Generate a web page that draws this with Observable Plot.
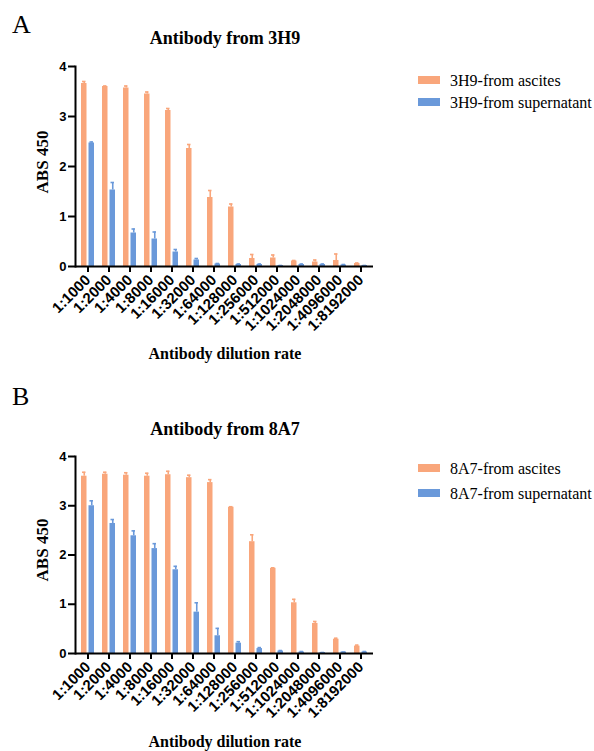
<!DOCTYPE html>
<html><head><meta charset="utf-8">
<script src="https://cdn.jsdelivr.net/npm/d3@7"></script>
<script src="https://cdn.jsdelivr.net/npm/@observablehq/plot@0.6"></script>
<style>
body{margin:0;background:#fff}
#page{position:relative;width:594px;height:751px;overflow:hidden;background:#fff}
.chart{position:absolute;left:0}
#overlay{position:absolute;left:0;top:0;pointer-events:none}
</style></head><body><div id="page"></div>
<script>
const categories = ["1:1000","1:2000","1:4000","1:8000","1:16000","1:32000","1:64000","1:128000","1:256000","1:512000","1:1024000","1:2048000","1:4096000","1:8192000"];

const ascites3H9      = [3.66, 3.60, 3.57, 3.45, 3.12, 2.36, 1.38, 1.19, 0.16, 0.17, 0.11, 0.09, 0.12, 0.06];
const ascites3H9Err   = [0.04, 0.01, 0.04, 0.04, 0.04, 0.08, 0.14, 0.06, 0.08, 0.06, 0.01, 0.04, 0.13, 0.01];
const supern3H9       = [2.47, 1.53, 0.67, 0.55, 0.29, 0.13, 0.05, 0.04, 0.04, 0.02, 0.04, 0.04, 0.03, 0.02];
const supern3H9Err    = [0.02, 0.15, 0.08, 0.14, 0.05, 0.03, 0.01, 0.01, 0.01, 0.00, 0.01, 0.01, 0.01, 0.00];

const ascites8A7      = [3.60, 3.64, 3.62, 3.60, 3.63, 3.57, 3.47, 2.97, 2.27, 1.73, 1.03, 0.61, 0.29, 0.15];
const ascites8A7Err   = [0.08, 0.04, 0.05, 0.06, 0.07, 0.05, 0.06, 0.01, 0.14, 0.01, 0.07, 0.04, 0.02, 0.02];
const supern8A7       = [3.00, 2.64, 2.39, 2.13, 1.70, 0.84, 0.36, 0.21, 0.10, 0.05, 0.03, 0.02, 0.03, 0.03];
const supern8A7Err    = [0.10, 0.08, 0.10, 0.10, 0.07, 0.19, 0.15, 0.03, 0.02, 0.01, 0.01, 0.00, 0.00, 0.01];

const yTicks = [0, 1, 2, 3, 4];
const seriesNamesA = ["3H9-from ascites", "3H9-from supernatant"];
const seriesNamesB = ["8A7-from ascites", "8A7-from supernatant"];
const panelTitles = ["Antibody from 3H9", "Antibody from 8A7"];
const panelLetters = ["A", "B"];
const yLabel = "ABS 450";
const xLabel = "Antibody dilution rate";
const colors = ["#F9A67B", "#6A99DA"];

function panel(asc, ascErr, sup, supErr, cfg) {
  const rowsA = categories.map((c, i) => ({cat: c, v: asc[i], e: ascErr[i]}));
  const rowsS = categories.map((c, i) => ({cat: c, v: sup[i], e: supErr[i]}));
  return Plot.plot({
    width: 400, height: cfg.height,
    marginTop: cfg.mt, marginBottom: cfg.mb, marginLeft: 75, marginRight: 27,
    style: {fontFamily: '"Liberation Sans", Arial, sans-serif', fontSize: "13px", fontWeight: "bold", color: "black", background: "transparent", overflow: "visible"},
    x: {type: "band", domain: categories, paddingInner: 0.37, paddingOuter: 0.12},
    y: {domain: [0, 4]},
    marks: [
      Plot.barY(rowsA, {x: "cat", y: "v", fill: colors[0], insetLeft: 0, insetRight: 7.5}),
      Plot.barY(rowsS, {x: "cat", y: "v", fill: colors[1], insetLeft: 7.5, insetRight: 0}),
      Plot.ruleX(rowsA, {x: "cat", y1: "v", y2: d => d.v + d.e, stroke: colors[0], strokeWidth: 1.6, dx: -3.75}),
      Plot.ruleX(rowsS, {x: "cat", y1: "v", y2: d => d.v + d.e, stroke: colors[1], strokeWidth: 1.6, dx: 3.75}),
      Plot.tickY(rowsA, {x: "cat", y: d => d.v + d.e, stroke: colors[0], strokeWidth: 1.6, insetLeft: 1, insetRight: 8.5}),
      Plot.tickY(rowsS, {x: "cat", y: d => d.v + d.e, stroke: colors[1], strokeWidth: 1.6, insetLeft: 8.5, insetRight: 1}),
      Plot.axisY({ticks: yTicks, tickSize: 7, tickPadding: 2, strokeWidth: 2, label: null, tickFormat: d3.format("d"), fontSize: 13, fontWeight: "bold"}),
      Plot.axisX({tickRotate: -45, tickSize: 6, tickPadding: 5, strokeWidth: 2, label: null, fontSize: 15, fontWeight: "bold"}),
      Plot.ruleY([0], {strokeWidth: 2}),
      Plot.frame({anchor: "left", strokeWidth: 2})
    ]
  });
}

const page = document.getElementById("page");
const chartA = panel(ascites3H9, ascites3H9Err, supern3H9, supern3H9Err, {height: 351, mt: 66, mb: 85});
chartA.classList.add("chart"); chartA.style.top = "0px";
page.appendChild(chartA);
const chartB = panel(ascites8A7, ascites8A7Err, supern8A7, supern8A7Err, {height: 348, mt: 66, mb: 85});
chartB.classList.add("chart"); chartB.style.top = "390px";
page.appendChild(chartB);

// overlay text (titles, labels, legends)
const ov = d3.select(page).append("svg").attr("id", "overlay").attr("width", 594).attr("height", 751);
const serif = '"Liberation Serif", "Times New Roman", serif';
const panels = [
  {letterY: 33, titleY: 44, yLabY: 162, xLabY: 359, legY: [80, 102], names: seriesNamesA},
  {letterY: 405, titleY: 435, yLabY: 550, xLabY: 747, legY: [468, 493], names: seriesNamesB}
];
panels.forEach((p, k) => {
  ov.append("text").attr("x", 12).attr("y", p.letterY).attr("font-family", serif).attr("font-size", 26).text(panelLetters[k]);
  ov.append("text").attr("x", 225).attr("y", p.titleY).attr("text-anchor", "middle").attr("font-family", serif).attr("font-weight", "bold").attr("font-size", 18).text(panelTitles[k]);
  ov.append("text").attr("transform", `translate(48,${p.yLabY}) rotate(-90)`).attr("text-anchor", "middle").attr("font-family", serif).attr("font-weight", "bold").attr("font-size", 17).text(yLabel);
  ov.append("text").attr("x", 225).attr("y", p.xLabY).attr("text-anchor", "middle").attr("font-family", serif).attr("font-weight", "bold").attr("font-size", 16).text(xLabel);
  p.names.forEach((n, j) => {
    ov.append("rect").attr("x", 418).attr("y", p.legY[j] - 4).attr("width", 22).attr("height", 8).attr("fill", colors[j]);
    ov.append("text").attr("x", 450).attr("y", p.legY[j]).attr("dy", "0.35em").attr("font-family", serif).attr("font-size", 16).text(n);
  });
});
</script></body></html>
